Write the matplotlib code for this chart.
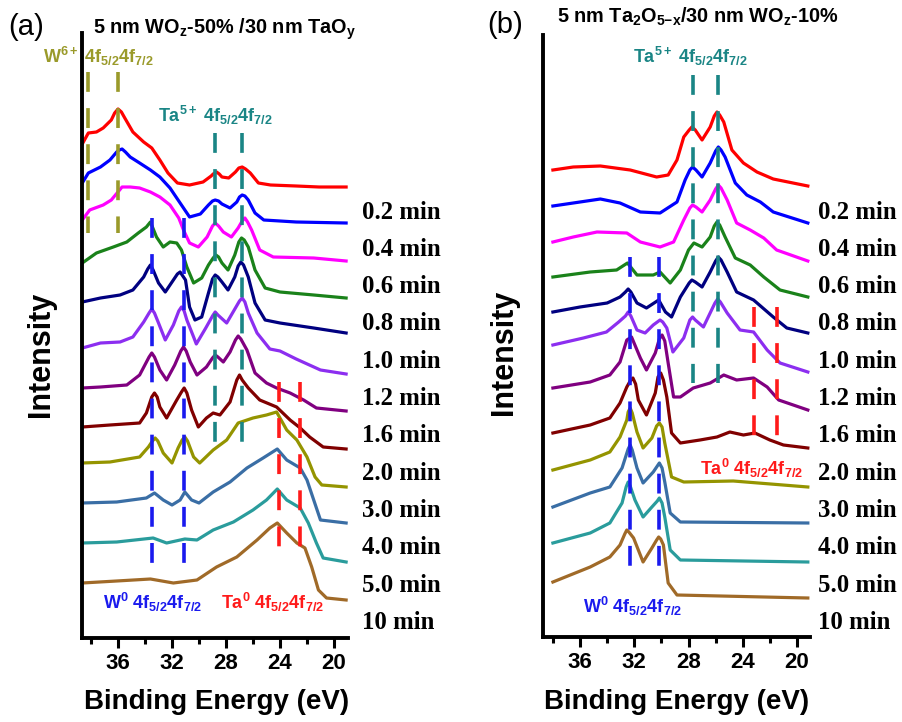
import matplotlib
matplotlib.use('Agg')
import matplotlib.pyplot as plt

plt.rcParams['font.family'] = ['Liberation Sans', 'DejaVu Sans']
plt.rcParams['mathtext.fontset'] = 'custom'
plt.rcParams['mathtext.rm'] = 'Liberation Sans:bold'
plt.rcParams['mathtext.it'] = 'Liberation Sans:bold'
plt.rcParams['mathtext.bf'] = 'Liberation Sans:bold'
plt.rcParams['mathtext.sf'] = 'Liberation Sans:bold'

# ---------------- data: (binding energy eV, stacked intensity a.u.) ----------------
time_labels = ['0.2 min', '0.4 min', '0.6 min', '0.8 min', '1.0 min', '1.2 min',
               '1.6 min', '2.0 min', '3.0 min', '4.0 min', '5.0 min', '10 min']
x_ticks = [36, 32, 28, 24, 20]
x_minor = [38, 34, 30, 26, 22]

# panel (a): 5 nm WOz-50% / 30 nm TaOy
a_red = [(38.65, 494), (38.2, 505), (37.6, 506), (37.1, 510), (36.5, 518), (36.25, 525),
         (36.0, 529), (35.75, 526), (35.5, 520), (34.9, 506), (34.1, 496), (33.5, 490),
         (32.9, 478), (32.3, 465), (31.6, 455), (30.7, 453), (29.7, 456), (29.1, 462),
         (28.95, 464), (28.7, 466), (28.5, 464), (28.3, 461), (27.8, 460), (27.3, 466),
         (27.05, 470), (26.8, 471), (26.55, 469), (26.2, 465), (25.6, 455), (24.7, 453),
         (22.8, 452), (21.1, 451), (19.1, 451)]
a_blue = [(38.65, 455), (38.2, 465), (37.3, 471), (36.6, 478), (36.1, 486), (35.9, 488),
          (35.7, 489), (35.45, 486), (35.1, 481), (34.4, 475), (33.6, 468), (32.9, 461),
          (32.15, 450), (31.4, 435), (30.7, 421), (29.9, 424), (29.3, 433), (29.0, 437),
          (28.8, 438), (28.55, 437), (28.3, 434), (27.7, 430), (27.2, 436), (27.0, 441),
          (26.8, 443), (26.6, 442), (26.35, 438), (25.85, 425), (25.2, 418), (22.8, 416),
          (19.1, 415)]
a_magenta = [(38.65, 418), (38.1, 428), (37.1, 433), (36.5, 438), (35.7, 451), (35.1, 451),
             (34.4, 450), (33.6, 446), (32.9, 441), (32.15, 433), (31.5, 420), (31.15, 408),
             (30.7, 395), (30.05, 391), (29.4, 401), (29.0, 412), (28.8, 415), (28.55, 412),
             (28.2, 406), (27.6, 401), (27.1, 410), (26.8, 417), (26.6, 420), (26.4, 416),
             (26.1, 408), (25.5, 388), (24.5, 381), (21.5, 380), (19.1, 377)]
a_green = [(38.65, 375), (37.6, 385), (36.35, 391), (35.35, 396), (34.5, 405), (33.9, 411),
           (33.6, 416), (33.15, 401), (32.65, 391), (32.15, 396), (31.65, 395), (31.3, 388),
           (30.9, 371), (30.4, 355), (29.8, 360), (29.3, 373), (28.95, 380), (28.75, 383),
           (28.55, 381), (28.3, 375), (27.85, 368), (27.35, 383), (27.05, 396), (26.85, 400),
           (26.65, 398), (26.35, 391), (25.85, 368), (25.1, 350), (24.0, 346), (21.5, 343),
           (19.1, 340)]
a_navy = [(38.65, 336), (37.3, 340), (35.85, 343), (34.9, 348), (34.1, 361), (33.8, 369),
          (33.6, 373), (33.4, 368), (33.0, 355), (32.5, 346), (31.9, 358), (31.6, 364),
          (31.4, 366), (31.0, 358), (30.7, 331), (30.3, 318), (29.8, 321), (29.3, 345),
          (29.0, 359), (28.8, 363), (28.6, 361), (28.3, 356), (27.85, 348), (27.35, 361),
          (27.1, 372), (26.9, 376), (26.7, 373), (26.35, 361), (25.85, 335), (25.1, 318),
          (24.0, 315), (21.5, 310), (19.1, 305)]
a_violet = [(38.65, 290), (37.3, 295), (35.85, 296), (34.9, 301), (34.1, 316), (33.7, 325),
            (33.5, 329), (33.3, 325), (33.0, 315), (32.5, 298), (31.9, 313), (31.5, 327),
            (31.3, 331), (31.1, 327), (30.9, 318), (30.4, 301), (30.2, 294), (29.5, 310),
            (29.0, 322), (28.8, 326), (28.6, 323), (27.95, 315), (27.0, 337), (26.8, 340),
            (26.6, 336), (26.35, 325), (25.7, 305), (24.75, 289), (24.0, 287), (22.8, 279),
            (21.0, 268), (19.1, 264)]
a_purple = [(38.65, 250), (37.3, 251), (35.35, 253), (34.4, 263), (33.7, 281), (33.5, 285),
            (33.3, 281), (32.9, 268), (32.4, 258), (31.8, 273), (31.35, 287), (31.15, 291),
            (30.95, 287), (30.65, 276), (30.15, 263), (29.45, 271), (29.0, 280), (28.8, 283),
            (28.6, 281), (28.2, 276), (27.7, 286), (27.3, 298), (27.1, 302), (26.9, 299),
            (26.45, 288), (25.85, 265), (25.0, 255), (24.25, 250), (23.25, 245), (22.25, 238),
            (21.3, 230), (19.1, 227)]
a_darkred = [(38.65, 211), (36.6, 213), (34.4, 215), (33.9, 225), (33.5, 241), (33.3, 245),
             (33.1, 241), (32.9, 231), (32.4, 220), (31.65, 238), (31.3, 246), (31.1, 250),
             (30.9, 245), (30.55, 228), (30.05, 211), (29.45, 220), (28.95, 225), (28.45, 223),
             (27.7, 236), (27.2, 258), (27.0, 263), (26.8, 258), (26.35, 250), (25.5, 238),
             (24.25, 231), (23.25, 218), (22.5, 210), (21.8, 201), (20.8, 191), (19.1, 189)]
a_olive = [(38.65, 175), (36.6, 176), (34.4, 181), (33.75, 191), (33.45, 197), (33.25, 200),
           (33.05, 197), (32.65, 185), (32.0, 175), (31.55, 190), (31.25, 198), (31.05, 201),
           (30.85, 197), (30.4, 181), (29.95, 175), (28.95, 188), (27.95, 198), (27.1, 215),
           (26.0, 220), (25.0, 223), (24.25, 226), (23.5, 208), (22.75, 198), (22.0, 181),
           (21.4, 161), (20.9, 153), (19.1, 151)]
a_steel = [(38.65, 135), (36.1, 136), (33.9, 140), (33.3, 145), (32.65, 138), (32.0, 133),
           (31.4, 138), (31.05, 146), (30.55, 138), (30.0, 135), (28.95, 146), (27.7, 156),
           (26.45, 170), (25.25, 180), (24.2, 189), (23.5, 178), (22.5, 170), (22.0, 158),
           (21.5, 138), (21.0, 118), (19.1, 115)]
a_teal = [(38.65, 95), (36.1, 96), (33.4, 100), (32.4, 95), (31.05, 99), (30.15, 98),
          (28.95, 108), (27.45, 116), (26.0, 128), (25.0, 138), (24.2, 149), (23.5, 138),
          (22.5, 130), (21.9, 115), (21.3, 95), (20.8, 80), (19.1, 76)]
a_brown = [(38.65, 55), (36.1, 57), (33.6, 59), (31.9, 55), (30.15, 58), (28.7, 71),
           (27.2, 81), (25.7, 98), (24.75, 110), (24.2, 115), (23.5, 105), (22.75, 95),
           (22.15, 90), (21.65, 71), (21.15, 48), (20.55, 40), (19.1, 38)]

# panel (b): 5 nm Ta2O5-x / 30 nm WOz-10%
b_red = [(38.0, 468), (36.5, 471), (34.5, 472), (32.3, 468), (30.35, 461), (29.5, 463),
         (28.85, 478), (28.35, 501), (27.95, 508), (27.75, 511), (27.5, 508), (27.0, 498),
         (26.4, 511), (26.1, 522), (25.9, 526), (25.7, 523), (25.4, 516), (24.8, 488),
         (23.95, 475), (22.95, 466), (21.75, 459), (19.2, 452)]
b_blue = [(38.0, 432), (36.5, 435), (34.5, 439), (33.05, 435), (31.55, 426), (30.1, 425),
          (28.85, 436), (28.25, 458), (27.9, 468), (27.7, 471), (27.45, 468), (27.0, 461),
          (26.4, 475), (26.0, 487), (25.8, 491), (25.6, 488), (25.3, 481), (24.55, 455),
          (23.7, 443), (22.7, 436), (21.75, 426), (19.2, 415)]
b_magenta = [(38.0, 396), (36.5, 401), (34.75, 406), (32.55, 405), (31.55, 396), (30.1, 391),
             (29.1, 396), (28.35, 418), (27.9, 430), (27.7, 433), (27.45, 431), (27.0, 426),
             (26.4, 438), (26.0, 449), (25.8, 453), (25.6, 450), (25.15, 438), (24.45, 415),
             (23.45, 408), (22.45, 400), (21.5, 388), (19.2, 377)]
b_green = [(38.0, 361), (35.25, 366), (33.3, 368), (32.5, 375), (31.8, 363), (30.6, 363),
           (30.1, 366), (29.35, 355), (28.6, 368), (28.0, 388), (27.6, 395), (27.0, 391),
           (26.4, 401), (26.1, 412), (25.9, 416), (25.7, 413), (25.3, 401), (24.55, 380),
           (23.45, 373), (22.45, 361), (21.25, 348), (19.2, 341)]
b_navy = [(38.0, 326), (36.0, 331), (34.0, 335), (33.05, 341), (32.65, 346), (32.45, 349),
          (32.25, 346), (31.8, 335), (31.1, 330), (30.2, 338), (29.7, 326), (29.25, 321),
          (28.6, 341), (27.95, 355), (27.75, 358), (27.5, 356), (27.0, 351), (26.4, 366),
          (26.0, 377), (25.8, 381), (25.6, 378), (25.15, 366), (24.45, 346), (23.2, 338),
          (21.75, 321), (20.75, 310), (19.2, 305)]
b_violet = [(38.0, 293), (35.75, 300), (34.05, 306), (33.15, 316), (32.65, 322), (32.45, 326),
            (32.25, 322), (31.8, 308), (31.2, 305), (30.6, 313), (30.3, 316), (30.1, 318),
            (29.9, 316), (29.6, 310), (29.15, 286), (28.35, 300), (27.9, 318), (27.7, 321),
            (27.5, 318), (26.9, 311), (26.05, 335), (25.85, 339), (25.65, 336), (25.15, 325),
            (24.2, 308), (23.2, 306), (22.2, 288), (21.25, 275), (19.2, 266)]
b_purple = [(38.0, 250), (35.25, 256), (33.8, 263), (33.05, 276), (32.55, 298), (32.2, 301),
            (31.55, 280), (31.1, 268), (30.45, 285), (30.15, 299), (29.95, 303), (29.75, 297),
            (29.5, 275), (29.1, 241), (28.6, 241), (27.65, 250), (26.4, 255), (25.4, 263),
            (24.45, 258), (23.2, 260), (22.2, 251), (21.35, 238), (19.2, 228)]
b_darkred = [(38.0, 205), (35.25, 213), (33.8, 220), (33.05, 235), (32.55, 251), (32.3, 257),
             (32.1, 260), (31.9, 254), (31.7, 238), (31.1, 223), (30.45, 245), (30.25, 261),
             (30.05, 265), (29.85, 258), (29.6, 241), (29.25, 205), (28.6, 195), (27.15, 198),
             (25.9, 201), (24.95, 206), (23.95, 203), (23.1, 205), (22.0, 198), (21.0, 193),
             (19.2, 190)]
b_olive = [(38.0, 168), (35.25, 178), (33.8, 186), (33.05, 201), (32.55, 218), (32.45, 226),
           (32.3, 230), (32.15, 225), (31.8, 206), (31.35, 190), (30.7, 200), (30.35, 212),
           (30.15, 215), (29.95, 211), (29.75, 195), (29.25, 161), (28.35, 156), (24.7, 157),
           (19.2, 151)]
b_steel = [(38.0, 131), (35.25, 145), (33.8, 151), (32.9, 170), (32.45, 189), (32.3, 193),
           (32.15, 188), (31.8, 170), (31.35, 155), (30.6, 166), (30.3, 172), (30.15, 175),
           (29.95, 170), (29.75, 156), (29.35, 125), (28.6, 116), (19.2, 115)]
b_teal = [(38.0, 95), (35.25, 105), (33.8, 115), (32.9, 135), (32.6, 151), (32.45, 156),
          (32.3, 152), (31.95, 138), (31.35, 121), (30.7, 131), (30.3, 137), (30.15, 140),
          (29.95, 135), (29.75, 121), (29.35, 88), (28.6, 78), (19.2, 76)]
b_brown = [(38.0, 56), (35.25, 71), (33.8, 81), (33.05, 93), (32.7, 104), (32.55, 108),
           (32.4, 106), (32.05, 100), (31.35, 76), (30.7, 90), (30.35, 98), (30.2, 101),
           (30.05, 99), (29.85, 93), (29.5, 55), (28.85, 43), (19.2, 40)]

# reference peak positions (eV)
a_w6_peaks = [38.2, 36.0]
a_ta5_peaks = [28.8, 26.8]
a_w0_peaks = [33.5, 31.1]
a_ta0_peaks = [24.1, 22.55]
b_ta5_peaks = [27.7, 25.8]
b_w0_peaks = [32.35, 30.15]
b_ta0_peaks = [23.2, 21.5]

# ---------------- styling ----------------
curve_colors = ['#ff0000', '#0000ff', '#ff00ff', '#1a821a', '#000080', '#8c2ef0',
                '#800080', '#800000', '#949400', '#3a6ea5', '#2a9c9c', '#a06a28']
c_olive = '#9a9a2a'
c_teal = '#1a8585'
c_blue = '#1a1aee'
c_red = '#ff1a1a'

W, H = 902, 722
fig = plt.figure(figsize=(W / 100, H / 100), dpi=100)


def fx(px):
    return px / W


def fy(py):
    return 1 - py / H


def make_axes(left, right, top, bottom, xlim, ylim):
    ax = fig.add_axes([fx(left), fy(bottom), (right - left) / W, (bottom - top) / H])
    ax.set_xlim(*xlim)
    ax.set_ylim(*ylim)
    for s in ['top', 'right']:
        ax.spines[s].set_visible(False)
    for s in ['left', 'bottom']:
        ax.spines[s].set_linewidth(2.8)
    ax.set_yticks([])
    ax.set_xticks(x_ticks)
    ax.set_xticks(x_minor, minor=True)
    ax.tick_params(axis='x', which='major', direction='out', length=7, width=2.2,
                   pad=4, labelsize=16)
    ax.tick_params(axis='x', which='minor', direction='out', length=4.5, width=2.2)
    for lab in ax.get_xticklabels():
        lab.set_fontweight('bold')
    ax.patch.set_alpha(0)
    return ax


ax_a = make_axes(82, 348, 33, 638, (38.67, 18.96), (0, 605))
ax_b = make_axes(543, 810, 35, 637, (38.73, 19.04), (1, 603))

a_curves = [a_red, a_blue, a_magenta, a_green, a_navy, a_violet, a_purple, a_darkred,
            a_olive, a_steel, a_teal, a_brown]
b_curves = [b_red, b_blue, b_magenta, b_green, b_navy, b_violet, b_purple, b_darkred,
            b_olive, b_steel, b_teal, b_brown]

for ax, curves in [(ax_a, a_curves), (ax_b, b_curves)]:
    for pts, col in zip(curves, curve_colors):
        xs = [p[0] for p in pts]
        ys = [p[1] for p in pts]
        ax.plot(xs, ys, color=col, lw=2.3, zorder=2, solid_joinstyle='round')

dash = (0, (5.5, 4.5))


def vlines(ax, xs, top, bottom, color):
    for x in xs:
        ax.plot([x, x], [top, bottom], color=color, lw=2.6, ls=dash, zorder=3,
                dash_capstyle='butt')


vlines(ax_a, a_w6_peaks, 566, 405, c_olive)
vlines(ax_a, a_ta5_peaks, 505, 191, c_teal)
vlines(ax_a, a_w0_peaks, 420, 71, c_blue)
vlines(ax_a, a_ta0_peaks, 256, 91, c_red)
vlines(ax_b, b_ta5_peaks, 563, 255, c_teal)
vlines(ax_b, b_w0_peaks, 381, 66, c_blue)
vlines(ax_b, b_ta0_peaks, 331, 200, c_red)

# ---------------- texts ----------------
fig.text(fx(8), fy(27), '(a)', fontsize=21, ha='left', va='center')
fig.text(fx(487), fy(25), '(b)', fontsize=21, ha='left', va='center')

fig.text(fx(93), fy(34), r'5 nm WO$_\mathbf{z}$-50% /30 nm TaO$_\mathbf{y}$',
         fontsize=14.3, fontweight='bold', ha='left', va='baseline')
fig.text(fx(557), fy(23), r'5 nm Ta$_\mathbf{2}$O$_\mathbf{5{-}x}$/30 nm WO$_\mathbf{z}$-10%',
         fontsize=14.3, fontweight='bold', ha='left', va='baseline')

lab_kw = dict(fontsize=13, fontweight='bold', ha='left', va='baseline')
fig.text(fx(43), fy(63), r'W$^{6+}$ 4f$_{5/2}$4f$_{7/2}$', color=c_olive, **lab_kw)
fig.text(fx(158), fy(122), r'Ta$^{5+}$ 4f$_{5/2}$4f$_{7/2}$', color=c_teal, **lab_kw)
fig.text(fx(103), fy(609), r'W$^{0}$ 4f$_{5/2}$4f$_{7/2}$', color=c_blue, **lab_kw)
fig.text(fx(221), fy(609), r'Ta$^{0}$ 4f$_{5/2}$4f$_{7/2}$', color=c_red, **lab_kw)
fig.text(fx(633), fy(63), r'Ta$^{5+}$ 4f$_{5/2}$4f$_{7/2}$', color=c_teal, **lab_kw)
fig.text(fx(700), fy(475), r'Ta$^{0}$ 4f$_{5/2}$4f$_{7/2}$', color=c_red, **lab_kw)
fig.text(fx(583), fy(613), r'W$^{0}$ 4f$_{5/2}$4f$_{7/2}$', color=c_blue, **lab_kw)

for left in (362, 818):
    for i, t in enumerate(time_labels):
        fig.text(fx(left), fy(212 + i * 37.3), t, fontsize=17.8, fontweight='bold',
                 family=['Liberation Serif', 'DejaVu Serif'], ha='left', va='center')

for cx, cy in [(41, 354), (504, 352)]:
    fig.text(fx(cx), fy(cy), 'Intensity', fontsize=22, fontweight='bold', rotation=90,
             ha='center', va='center')
for cx in (217, 677):
    fig.text(fx(cx), fy(709), 'Binding Energy (eV)', fontsize=20, fontweight='bold',
             ha='center', va='baseline')

fig.savefig('out.png', dpi=100)
